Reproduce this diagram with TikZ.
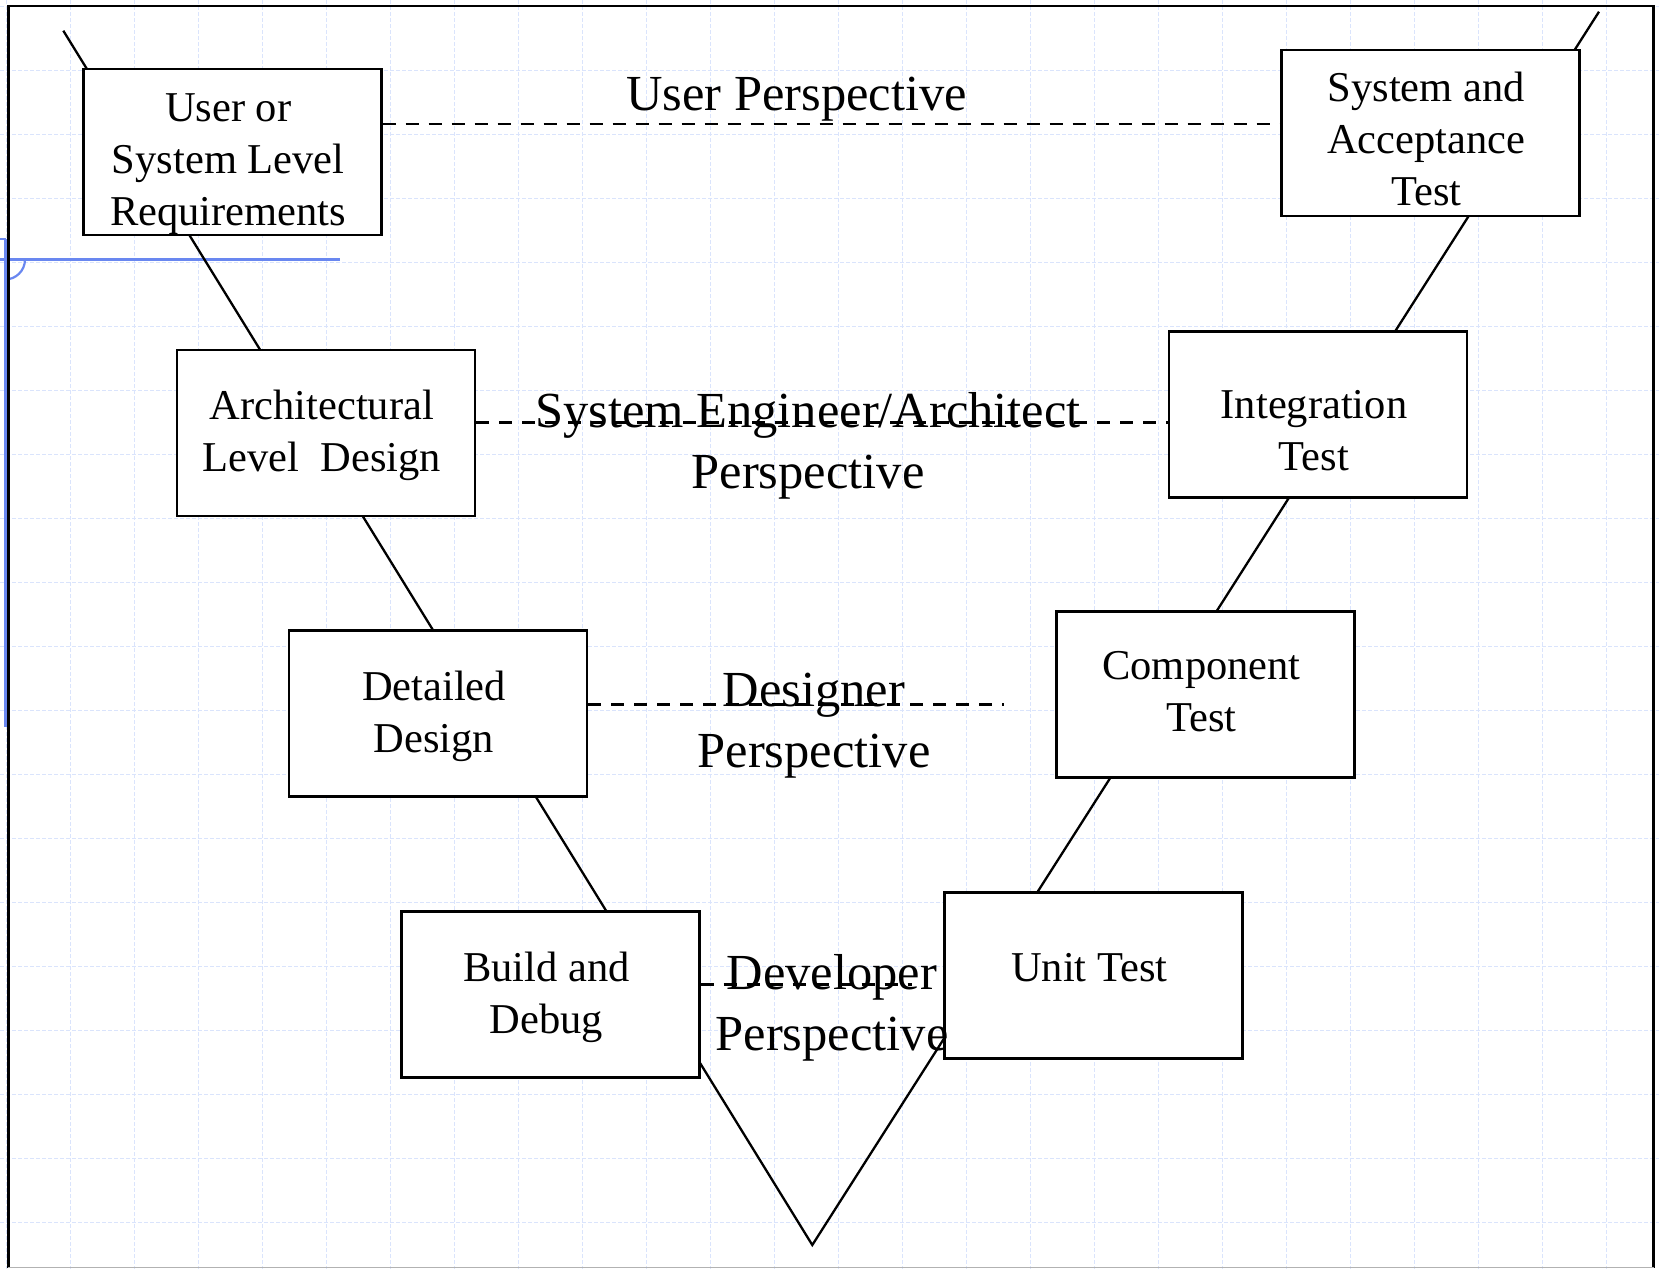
\documentclass[tikz,border=0pt]{standalone}
\usepackage{fontspec}
\setmainfont{Liberation Serif}
\usetikzlibrary{calc}

% one drawing unit = one pixel of the sheet
\newlength\pxl
\setlength\pxl{0.5pt}

% text block of a stage box: #1 = space above the first line, #2 = lines
\newcommand\stagetext[2]{%
  \parbox[c][166\pxl][t]{298\pxl}{%
    \fontsize{21.25}{25.85}\selectfont
    \centering\rightskip=8\pxl plus 1fil\relax
    \vspace*{#1\pxl}#2}}

\definecolor{gridblue}{RGB}{218,228,252}
\definecolor{markblue}{RGB}{105,135,240}

\tikzset{
  gridline/.style={draw=gridblue, line width=0.5pt, dash pattern=on 2pt off 1pt},
  accent/.style={draw=markblue, line width=1.1pt},
  frameline/.style={draw=black, line width=1.2pt},
  vline/.style={draw=black, line width=1.15pt, line join=miter},
  stage/.style={draw=black, fill=white, line width=1.3pt, inner sep=0pt},
  persline/.style={draw=black, line width=1.35pt, dash pattern=on 6.5pt off 5pt},
  persp/.style={anchor=north, inner sep=0pt, align=center,
    font=\fontsize{25.25}{30.5}\selectfont}
}

\begin{document}
\begin{tikzpicture}[x=0.5pt, y=-0.5pt]
  \useasboundingbox (0,0) rectangle (1659,1269);
  \fill[white] (0,0) rectangle (1659,1269);

  % background grid
  \foreach \i in {0,...,25}
    \draw[gridline] ({6+64*\i},0) -- ({6+64*\i},1269);
  \foreach \j in {0,...,19}
    \draw[gridline] (0,{6+64*\j}) -- (1659,{6+64*\j});

  % blue guide marks on the left
  \draw[accent] (0,259.5) -- (340,259.5);
  \draw[accent] (5.5,238.5) -- (5.5,727);
  \draw[accent] (0,239) -- (5.5,239);
  \draw[accent] (25,259.5) arc[start angle=0, end angle=90, radius=20];

  % sheet frame
  \draw[frameline] (8.3,1268) -- (8.3,5.7) -- (1653.5,5.7) -- (1653.5,1268);
  \draw[draw=gray!60, line width=0.8pt] (8.3,1267.6) -- (1653.5,1267.6);

  % the V
  \coordinate (vL) at (63.3,30.7);
  \coordinate (vB) at (812.3,1245);
  \coordinate (vR) at (1599,11.7);
  \draw[vline] (vL) -- (vB) -- (vR);

  % stage boxes, left arm
  \node[stage] (user) at (232.2,152)
    {\stagetext{16.5}{\strut User or\\\strut System Level\\\strut Requirements}};
  \node[stage] (arch) at (325.8,432.9)
    {\stagetext{33.8}{\strut Architectural\\\strut Level\ \ Design}};
  \node[stage] (det) at (438,713.3)
    {\stagetext{33.8}{\strut Detailed\\\strut Design}};
  \node[stage] (build) at (550.3,994.3)
    {\stagetext{33.8}{\strut Build and\\\strut Debug}};

  % stage boxes, right arm
  \node[stage] (sys) at (1430.2,133)
    {\stagetext{15.5}{\strut System and\\\strut Acceptance\\\strut Test}};
  \node[stage] (integ) at (1318,414.2)
    {\stagetext{51.5}{\strut Integration\\\strut Test}};
  \node[stage] (comp) at (1205.5,694.7)
    {\stagetext{32.1}{\strut Component\\\strut Test}};
  \node[stage] (unit) at (1093.3,975.3)
    {\stagetext{53.2}{\strut Unit Test}};

  % perspective links
  \coordinate (yU) at (0,124);
  \coordinate (yA) at (0,422.3);
  \coordinate (dEnd) at (1004,704.3);
  \coordinate (bEnd) at (912,984.3);
  \draw[persline] (user.east |- yU) -- (sys.west |- yU);
  \draw[persline] (arch.east |- yA) -- (integ.west |- yA);
  \draw[persline] (det.east |- dEnd) -- (dEnd);
  \draw[persline] (build.east |- bEnd) -- (bEnd);

  % perspective labels
  \node[persp] (pUser) at (796.6,67.3) {\strut User Perspective};
  \node[persp] (pArch) at (808,384) {\strut System Engineer/Architect\\\strut Perspective};
  \node[persp] (pDes) at (814,663.3) {\strut Designer\\\strut Perspective};
  \node[persp] (pDev) at (832,946.3) {\strut Developer\\\strut Perspective};
\end{tikzpicture}
\end{document}
